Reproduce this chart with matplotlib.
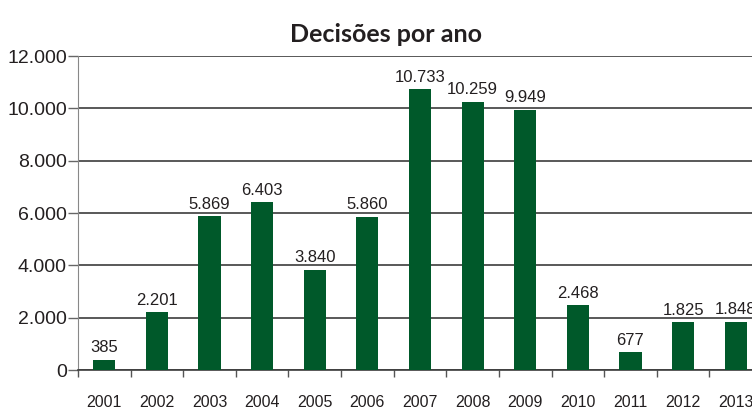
import matplotlib.pyplot as plt
import numpy as np

anos = ['2001', '2002', '2003', '2004', '2005', '2006', '2007',
        '2008', '2009', '2010', '2011', '2012', '2013']
decisoes = [385, 2201, 5869, 6403, 3840, 5860, 10733,
            10259, 9949, 2468, 677, 1825, 1848]
yticks = [0, 2000, 4000, 6000, 8000, 10000, 12000]


def fmt(v):
    return f'{v:,}'.replace(',', '.')


fig = plt.figure(figsize=(7.52, 4.11), dpi=100)
# axes runs a bit past the right edge, like the original crop
ax = fig.add_axes([78 / 752, 1 - 370 / 411, 684 / 752, 314 / 411])

x = np.arange(len(anos))
ax.bar(x, decisoes, width=0.42, color='#00592a', zorder=3)

for xi, v in zip(x, decisoes):
    ax.text(xi, v + 170, fmt(v), ha='center', va='bottom',
            fontsize=12, color='#231f20', family='Liberation Sans')

ax.set_xlim(-0.5, len(anos) - 0.5)
ax.set_ylim(0, 12000)
ax.set_yticks(yticks)
ax.set_yticklabels([fmt(t) for t in yticks], family='Liberation Sans',
                   fontsize=14, color='#231f20')
ax.yaxis.grid(True, color='#3c3c3c', linewidth=1.2, zorder=0)

ax.set_xticks(x)
ax.set_xticklabels(anos, family='Liberation Sans', fontsize=11.5, color='#231f20')
ax.set_xticks(np.arange(-0.5, len(anos), 1), minor=True)
ax.tick_params(axis='x', which='major', length=0, pad=18)
ax.tick_params(axis='x', which='minor', length=5, width=1, color='#555555')
ax.tick_params(axis='y', length=7, width=1, color='#666666', pad=1)

for s in ['top', 'right']:
    ax.spines[s].set_visible(False)
ax.spines['left'].set_color('#888888')
ax.spines['bottom'].set_color('#3c3c3c')
ax.spines['bottom'].set_linewidth(1.2)

fig.text(386 / 752, 1 - 42 / 411, 'Decisões por ano', ha='center', va='baseline',
         fontsize=18, fontweight='bold', family='Lato', color='#231f20')

fig.savefig('out.png', dpi=100)
